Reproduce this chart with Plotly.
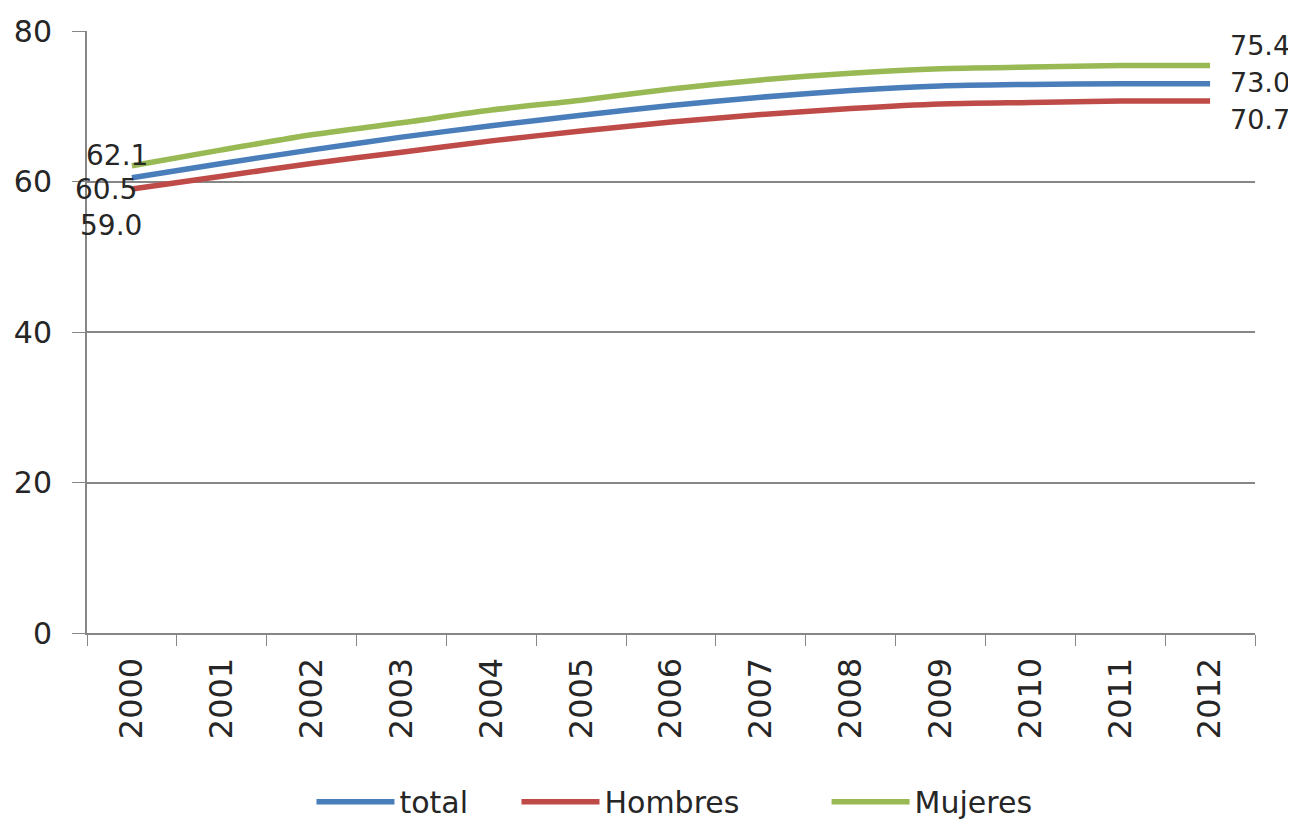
import plotly.graph_objects as go

years = ["2000", "2001", "2002", "2003", "2004", "2005", "2006",
         "2007", "2008", "2009", "2010", "2011", "2012"]
total = [60.5, 62.4, 64.2, 65.9, 67.4, 68.8, 70.1, 71.2, 72.1, 72.7, 72.9, 73.0, 73.0]
hombres = [59.0, 60.7, 62.4, 63.9, 65.4, 66.7, 67.9, 68.9, 69.7, 70.3, 70.5, 70.7, 70.7]
mujeres = [62.1, 64.2, 66.2, 67.8, 69.5, 70.8, 72.3, 73.5, 74.4, 75.0, 75.2, 75.4, 75.4]
y_ticks = [0, 20, 40, 60, 80]

series = [("total", total, "#4A7EBB"),
          ("Hombres", hombres, "#BE4B48"),
          ("Mujeres", mujeres, "#98B954")]

FONT = "DejaVu Sans, sans-serif"
TXT = "#262626"
FS = 30

legend_ids = ["legend", "legend2", "legend3"]
legend_x = [0.1922, 0.3677, 0.6332]

fig = go.Figure()
for (name, vals, col), lid in zip(series, legend_ids):
    fig.add_trace(go.Scatter(
        x=years, y=vals, name=name, mode="lines", legend=lid,
        line=dict(color=col, width=5.5, shape="spline", smoothing=0.6),
    ))

# data labels (first and last points); category index positions
first_idx = 0
last_idx = len(years) - 1
first_shifts = {"total": (-26, -12), "Hombres": (-21, -36), "Mujeres": (-15, 10)}
last_shifts = {"total": (18, 1), "Hombres": (18, -19), "Mujeres": (18, 20)}
for name, vals, col in series:
    dx, dy = first_shifts[name]
    fig.add_annotation(x=first_idx, y=vals[0], text=f"{vals[0]:.1f}", showarrow=False,
                       xshift=dx, yshift=dy, font=dict(size=28, color=TXT, family=FONT))
    dx, dy = last_shifts[name]
    fig.add_annotation(x=last_idx, y=vals[-1], text=f"{vals[-1]:.1f}", showarrow=False,
                       xanchor="left", xshift=dx, yshift=dy,
                       font=dict(size=27, color=TXT, family=FONT))

legend_common = dict(orientation="h", xanchor="left", y=-0.237, yanchor="top",
                     font=dict(size=FS, color=TXT, family=FONT), itemwidth=78,
                     bgcolor="rgba(0,0,0,0)")

fig.update_layout(
    width=1288, height=817,
    margin=dict(l=79, r=41, t=23, b=192, autoexpand=False),
    plot_bgcolor="white", paper_bgcolor="white",
    font=dict(family=FONT, size=FS, color=TXT),
    showlegend=True,
    legend=dict(x=legend_x[0], **legend_common),
    legend2=dict(x=legend_x[1], **legend_common),
    legend3=dict(x=legend_x[2], **legend_common),
    xaxis=dict(type="category", range=[-0.5, len(years) - 0.5], tickson="boundaries",
               ticks="outside", ticklen=11, ticklabelstandoff=10,
               tickcolor="#868686", showline=True, linecolor="#868686", linewidth=2,
               showgrid=False, tickangle=-90, tickfont=dict(size=32, color=TXT),
               automargin=False),
    yaxis=dict(range=[0, 80], tickvals=y_ticks, ticks="outside", ticklen=13,
               ticklabelstandoff=14,
               tickcolor="#868686", showline=True, linecolor="#868686", linewidth=2,
               showgrid=True, gridcolor="#868686", gridwidth=1.5, zeroline=False,
               tickfont=dict(size=FS, color=TXT), automargin=False),
)

fig.write_html("out.html")
